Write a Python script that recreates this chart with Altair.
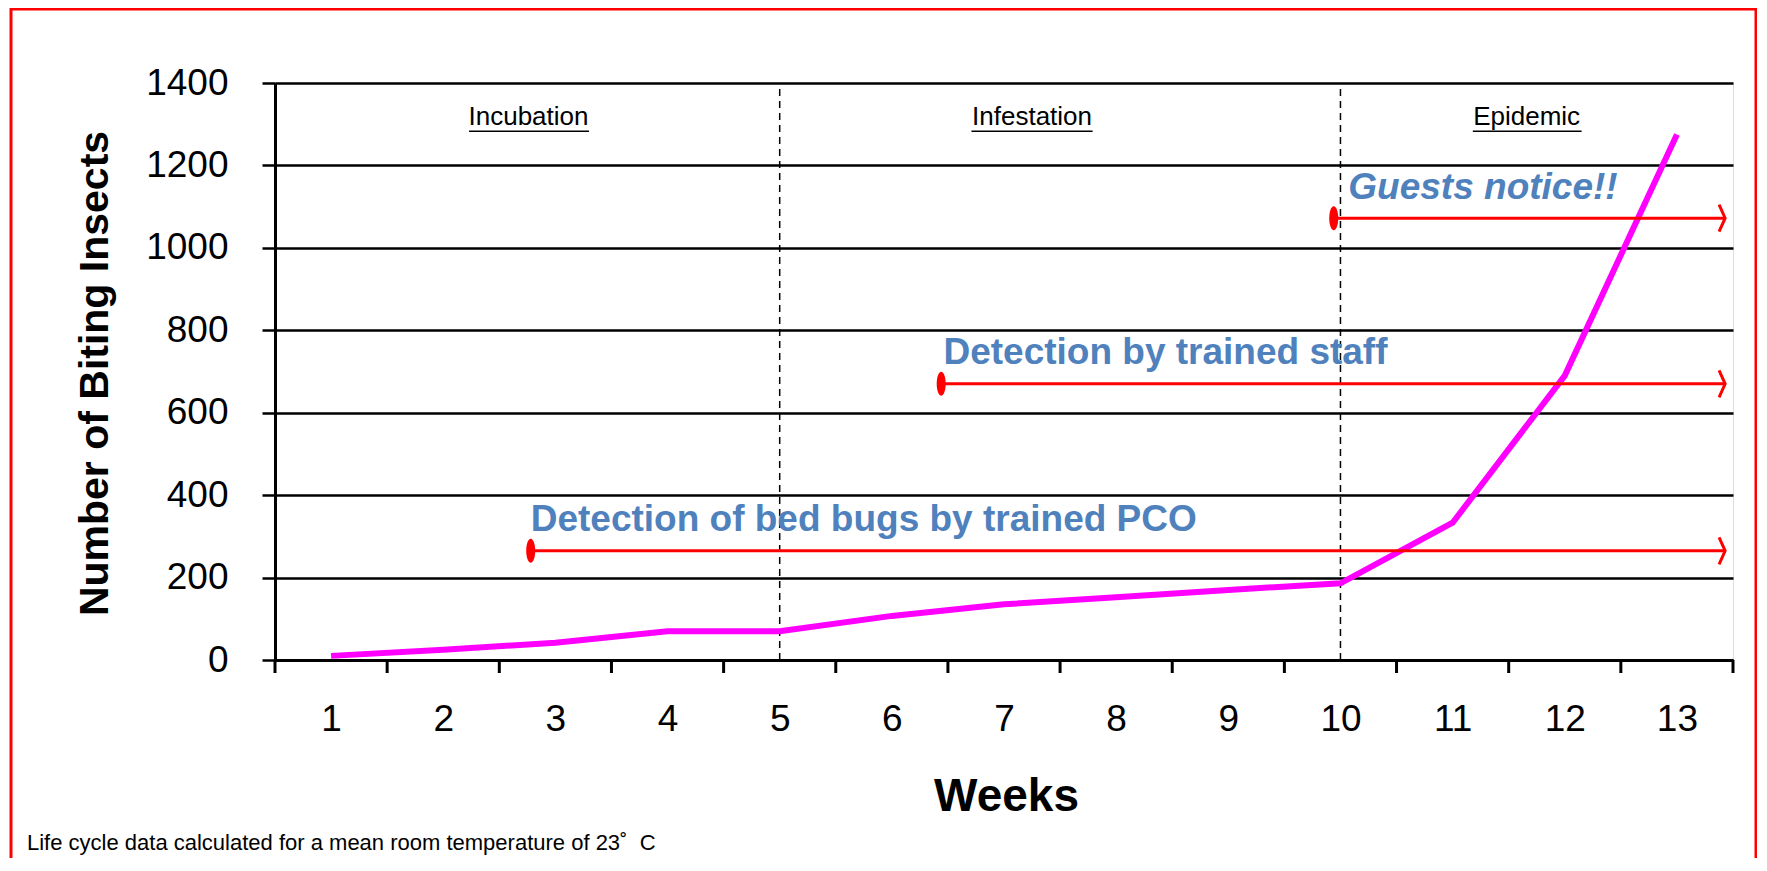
import altair as alt
import pandas as pd

# ---------------- data ----------------
weeks = list(range(1, 14))
insects = [10, 25, 42, 70, 70, 107, 135, 152, 170, 186, 333, 690, 1275]

y_tick_values = [0, 200, 400, 600, 800, 1000, 1200, 1400]
week_band_edges = [0.5, 1.5, 2.5, 3.5, 4.5, 5.5, 6.5, 7.5, 8.5, 9.5, 10.5, 11.5, 12.5, 13.5]

phase_names = ["Incubation", "Infestation", "Epidemic"]
phase_x = [2.76, 7.25, 11.66]
phase_y = [1318, 1318, 1318]
phase_ul_start = [2.23, 6.71, 11.18]
phase_ul_end = [3.30, 7.79, 12.15]
phase_ul_y = [1283, 1283, 1283]

boundary_weeks = [5, 10]
boundary_bottom = [0, 0]
boundary_top = [1400, 1400]

note_texts = ["Detection of bed bugs by trained PCO", "Detection by trained staff", "Guests notice!!"]
note_x = [2.78, 6.46, 10.07]
note_y = [339, 744, 1146]
note_italic = [False, False, True]

arrow_start = [2.78, 6.44, 9.94]
arrow_end = [13.43, 13.43, 13.43]
arrow_y = [265, 670, 1072]

footnote = "Life cycle data calculated for a mean room temperature of 23\u02da\u00a0\u00a0C"

# ---------------- tables ----------------
line_df = pd.DataFrame({"x": weeks, "y": insects})
edge_df = pd.DataFrame({"x": week_band_edges})
phase_df = pd.DataFrame({"label": phase_names, "x": phase_x, "y": phase_y})
ul_df = pd.DataFrame({"x": phase_ul_start, "x2": phase_ul_end, "y": phase_ul_y})
bound_df = pd.DataFrame({"x": boundary_weeks, "y": boundary_bottom, "y2": boundary_top})
note_df = pd.DataFrame({"label": note_texts, "x": note_x, "y": note_y, "italic": note_italic})
arrow_df = pd.DataFrame({"x": arrow_start, "x2": arrow_end, "y": arrow_y})
start_df = pd.DataFrame({"x": arrow_start, "y": arrow_y})
end_df = pd.DataFrame({"x": arrow_end, "y": arrow_y})

FONT = "Liberation Sans"
W, H = 1458, 577

XS = alt.Scale(domain=[0.5, 13.5], nice=False, zero=False)
YS = alt.Scale(domain=[0, 1400], nice=False, zero=True)

X_AXIS = alt.Axis(
    values=weeks, title="Weeks", grid=False, ticks=False, tickSize=0,
    domainColor="black", domainWidth=3,
    labelFont=FONT, labelFontSize=37, labelColor="black", labelPadding=59,
    labelBaseline="middle", labelAngle=0, labelFlush=False, labelOverlap=False,
    titleFont=FONT, titleFontSize=46, titleFontWeight="bold", titleColor="black",
    titleX=W / 2 + 2, titleY=136, titleAlign="center", titleBaseline="middle",
)
Y_AXIS = alt.Axis(
    values=y_tick_values, title="Number of Biting Insects", format="d",
    grid=True, gridColor="black", gridWidth=2.5, gridOpacity=1,
    ticks=True, tickColor="black", tickWidth=2.5, tickSize=13,
    domainColor="black", domainWidth=3,
    labelFont=FONT, labelFontSize=37, labelColor="black", labelPadding=34,
    labelFlush=False, labelOverlap=False,
    titleFont=FONT, titleFontSize=41, titleFontWeight="bold", titleColor="black",
    titleX=-180, titleY=290, titleAngle=270, titleAlign="center", titleBaseline="middle",
)


def X(field="x"):
    return alt.X(f"{field}:Q", scale=XS, axis=X_AXIS)


def Y(field="y"):
    return alt.Y(f"{field}:Q", scale=YS, axis=Y_AXIS)


base_line = alt.Chart(line_df).mark_line(color="#FF00FF", strokeWidth=6).encode(x=X(), y=Y())

x_ticks = alt.Chart(edge_df).mark_rule(color="black", strokeWidth=3).encode(
    x=X(), y=alt.value(H), y2=alt.value(H + 13)
)

bounds = alt.Chart(bound_df).mark_rule(color="black", strokeWidth=1.5, strokeDash=[7, 5]).encode(
    x=X(), y=Y(), y2="y2:Q"
)

phases = alt.Chart(phase_df).mark_text(
    font=FONT, fontSize=26, color="black", align="center", baseline="middle"
).encode(x=X(), y=Y(), text="label:N")

underlines = alt.Chart(ul_df).mark_rule(color="black", strokeWidth=1.5).encode(
    x=X(), x2="x2:Q", y=Y()
)

arrows = alt.Chart(arrow_df).mark_rule(color="#FF0000", strokeWidth=3).encode(
    x=X(), x2="x2:Q", y=Y()
)

starts = alt.Chart(start_df).mark_point(
    shape="M0,-1 A0.375,1 0 1,1 0,1 A0.375,1 0 1,1 0,-1 Z",
    filled=True, color="#FF0000", size=576, opacity=1,
).encode(x=X(), y=Y())

heads = alt.Chart(end_df).mark_point(
    shape="M-0.45,-1 L0,0 L-0.45,1", filled=False, color="#FF0000",
    strokeWidth=3, size=730, opacity=1,
).encode(x=X(), y=Y())

notes_plain = alt.Chart(note_df).transform_filter("!datum.italic").mark_text(
    font=FONT, fontSize=37, fontWeight="bold", color="#4F81BD", align="left", baseline="middle"
).encode(x=X(), y=Y(), text="label:N")

notes_italic = alt.Chart(note_df).transform_filter("datum.italic").mark_text(
    font=FONT, fontSize=37, fontWeight="bold", fontStyle="italic", color="#4F81BD",
    align="left", baseline="middle"
).encode(x=X(), y=Y(), text="label:N")

foot = alt.Chart(pd.DataFrame({"t": [footnote]})).mark_text(
    font=FONT, fontSize=22, color="black", align="left", baseline="alphabetic"
).encode(x=alt.value(-248), y=alt.value(767), text="t:N")

border = alt.Chart(pd.DataFrame({"b": [1]})).mark_rect(
    filled=False, stroke="#FF0000", strokeWidth=3
).encode(x=alt.value(-264), x2=alt.value(1481), y=alt.value(-74), y2=alt.value(900))

chart = alt.layer(
    bounds, underlines, phases, base_line, arrows, starts, heads,
    notes_plain, notes_italic, x_ticks, foot, border
).properties(
    width=W, height=H,
    autosize=alt.AutoSizeParams(type="none"),
    padding={"left": 267, "top": 75, "right": 24, "bottom": 198},
).configure_view(stroke="black", strokeWidth=3).configure(background="white")

chart.save("out.html", embed_options={"renderer": "svg", "actions": False})
